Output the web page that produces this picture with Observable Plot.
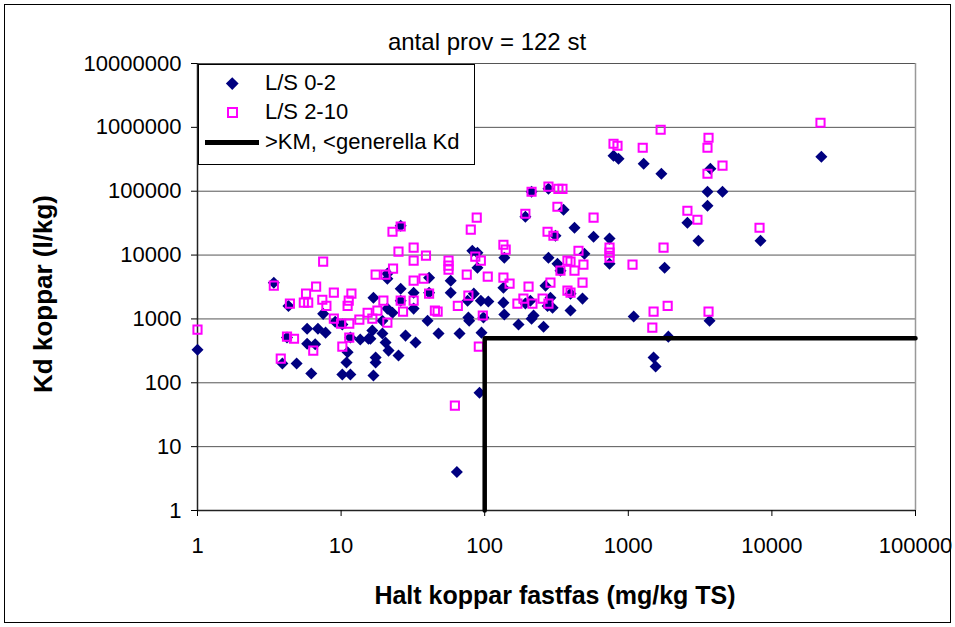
<!DOCTYPE html>
<html><head><meta charset="utf-8">
<script src="https://cdn.jsdelivr.net/npm/d3@7"></script>
<script src="https://cdn.jsdelivr.net/npm/@observablehq/plot@0.6"></script>
<style>
body{margin:0;background:#fff;font-family:"Liberation Sans",Arial,sans-serif;}
#wrap{position:relative;width:955px;height:627px;overflow:hidden;background:#fff;}
#border{position:absolute;left:4px;top:4px;width:945px;height:617px;border:1px solid #000;pointer-events:none;}
#title{position:absolute;left:0;top:29px;width:974px;text-align:center;font-size:24px;line-height:26px;color:#000;}
#xtitle{position:absolute;left:0;top:581px;width:1110px;text-align:center;font-size:25px;font-weight:bold;line-height:28px;}
#ytitle{position:absolute;left:-157px;top:280px;width:400px;height:28px;text-align:center;font-size:26px;font-weight:bold;line-height:28px;transform:rotate(-90deg);transform-origin:center;}
#legend{position:absolute;left:198px;top:64px;width:277px;height:101px;background:#fff;border:1px solid #000;box-sizing:border-box;font-size:22px;}
.li{position:absolute;left:66px;line-height:24px;}
.dia{position:absolute;width:8.5px;height:8.5px;background:#000080;transform:rotate(45deg);}
.sq{position:absolute;width:7px;height:7px;border:2px solid #ff00ff;}
.ln{position:absolute;height:4.5px;background:#000;}
</style>
</head><body>
<div id="wrap">
  <div id="chart"></div>
  <div id="title"></div>
  <div id="xtitle"></div>
  <div id="ytitle"></div>
  <div id="legend">
    <div class="dia" style="left:29px;top:14px;"></div><div class="li" id="l1" style="top:6px;"></div>
    <div class="sq" style="left:28px;top:42px;"></div><div class="li" id="l2" style="top:35px;"></div>
    <div class="ln" style="left:6px;top:75px;width:54px;"></div><div class="li" id="l3" style="top:65px;"></div>
  </div>
  <div id="border"></div>
</div>
<script>
// ---- texts ----
const titleText = "antal prov = 122 st";
const xTitle = "Halt koppar fastfas (mg/kg TS)";
const yTitle = "Kd koppar (l/kg)";
const seriesNames = ["L/S 0-2", "L/S 2-10", ">KM, <generella Kd"];

// ---- ticks ----
const xTicks = [1, 10, 100, 1000, 10000, 100000];
const yTicks = [1, 10, 100, 1000, 10000, 100000, 1000000, 10000000];

// ---- L/S 0-2 (diamonds) ----
const lowX = [1,3.4,4.3,3.9,4.9,6.2,4.2,5.8,6.6,5.8,6.9,7.8,7.5,9.1,10.2,11.6,13.6,15.5,11.1,10.2,11.6,10.9,
16.5,16.8,19.4,20.4,21,17.4,16,21.4,25.1,17.4,16.8,28.1,33,47.7,66.8,95,40,78,137,172,212,257,92,64,
26,212,278,192,82,89,137,89,58,58,21,26,32,41,94,106,77,135,135,219,278,321,287,208,192,265,41,76,
21,22.8,19.4,32,26,337,98,274,84,311,789,855,1280,1700,3730,3560,4530,3560,2580,3080,354,422,573,740,
740,1790,495,396,480,396,1090,1900,3680,297,22100,8330,1500,1550];
const lowY = [330,3700,1600,200,200,140,510,410,400,700,700,610,1200,900,815,510,475,490,300,135,135,207,
656,2150,589,426,5120,248,490,319,267,207,130,548,426,589,589,610,940,940,1170,815,1010,757,70,4,
28800,98200,109000,39900,11700,10900,9100,6350,3970,2580,4270,2980,2580,4430,1930,1870,1050,3090,1800,1130,9100,7330,2150,1930,1740,3320,2580,1930,
1450,1250,940,1450,1930,5700,1050,1600,2490,20100,360000,323000,269000,188000,225000,98000,98000,59300,32100,16800,51300,26800,19400,18100,
7330,6350,10500,2490,2080,1350,1090,528,940,1500,347000,16800,248,180];

// ---- L/S 2-10 (squares) ----
const highX = [1,3.4,4.4,3.8,4.2,4.7,6.4,7.5,5.7,6.7,5.9,5.5,7.4,7.9,8.9,11.8,11.1,11.3,8.9,10,11.4,13.4,15.3,11.4,10.2,
17.4,20.4,19.7,17.9,16.5,21,22.8,26,88,80,25.1,32,32,39,23,56,56,56,75,105,135,140,86,94,135,149,202,
212,278,321,274,301,287,91,62,47,27,97,65,169,215,278,32,37.5,41,26,32,45,77,337,377,377,186,253,
192,326,1680,789,841,1260,3620,3560,3560,4530,348,573,2580,3030,740,740,740,1760,1070,450,396,487,422,
480,396,1500,1880,1470,3620,21800,8200];
const highY = [680,3320,1740,239,528,490,319,7890,2490,3200,1800,1800,2000,1600,2580,2490,1600,1930,1010,845,845,975,1250,510,369,
4930,4930,1930,1350,1010,875,23200,28000,38500,25000,11300,13100,8170,9800,6130,8170,6820,5910,4930,4590,14500,12200,9440,8170,4430,3570,3200,
98000,118000,57200,23200,20100,3700,369,44,1300,1300,1130,1600,1740,1740,1740,3970,4270,2490,1930,1930,1350,2320,5700,8170,2770,2080,2080,
44400,109000,917000,553000,515000,480000,687000,480000,188000,251000,109000,38500,49500,35800,13100,10900,9100,13100,7080,11700,7890,7080,5700,
3700,2580,1300,1600,730,1300,1180000,26800];

// ---- threshold line (>KM, <generella Kd) ----
const kmX = [100, 100, 100000];
const kmY = [1, 500, 500];

const lowData = lowX.map((x, i) => ({x, y: lowY[i]}));
const highData = highX.map((x, i) => ({x, y: highY[i]}));
const kmData = kmX.map((x, i) => ({x, y: kmY[i]}));

const diamondSym = {draw(ctx, size) {
  const s = Math.sqrt(size / 2);
  ctx.moveTo(0, -s); ctx.lineTo(s, 0); ctx.lineTo(0, s); ctx.lineTo(-s, 0); ctx.closePath();
}};

const fmt = d => String(d);

const chart = Plot.plot({
  width: 955, height: 627,
  marginLeft: 197, marginRight: 40, marginTop: 63, marginBottom: 117,
  style: {fontFamily: '"Liberation Sans", Arial, sans-serif', fontSize: "22px", background: "transparent", color: "#000"},
  x: {type: "log", domain: [1, 100000]},
  y: {type: "log", domain: [1, 10000000]},
  marks: [
    Plot.ruleY(yTicks, {stroke: "#555", strokeWidth: 1}),
    Plot.ruleX([100000], {stroke: "#999", strokeWidth: 1.5}),
    Plot.ruleX([1], {stroke: "#222", strokeWidth: 1.5}),
    Plot.ruleY([1], {stroke: "#222", strokeWidth: 1.5}),
    Plot.axisX({ticks: xTicks, tickFormat: fmt, tickSize: 6, tickPadding: 21, label: null}),
    Plot.axisY({ticks: yTicks, tickFormat: fmt, tickSize: 6, tickPadding: 10, label: null}),
    Plot.dot(lowData, {x: "x", y: "y", symbol: diamondSym, r: 4.8, fill: "#000080", stroke: "none"}),
    Plot.dot(highData, {x: "x", y: "y", symbol: "square", r: 4.6, fill: "none", stroke: "#ff00ff", strokeWidth: 2}),
    Plot.line(kmData, {x: "x", y: "y", stroke: "#000", strokeWidth: 4.5})
  ]
});
document.getElementById("chart").appendChild(chart);
document.getElementById("title").textContent = titleText;
document.getElementById("xtitle").textContent = xTitle;
document.getElementById("ytitle").textContent = yTitle;
document.getElementById("l1").textContent = seriesNames[0];
document.getElementById("l2").textContent = seriesNames[1];
document.getElementById("l3").textContent = seriesNames[2];
</script>
</body></html>
